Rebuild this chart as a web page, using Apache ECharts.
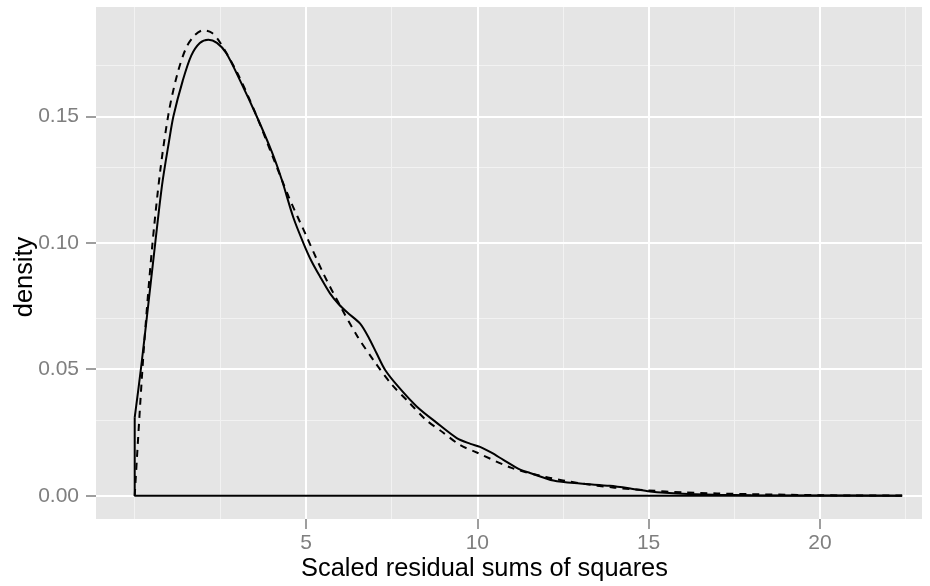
<!DOCTYPE html>
<html>
<head>
<meta charset="utf-8">
<script src="https://cdn.jsdelivr.net/npm/echarts@6/dist/echarts.min.js"></script>
<style>
  html, body { margin: 0; padding: 0; background: #fff; }
  #chart { width: 930px; height: 586px; }
</style>
</head>
<body>
<div id="chart"></div>
<script>
// 数据：核密度曲线（实线）和理论密度（虚线）
const kdeCurve = [
  [0, 0.031], [0.18, 0.05], [0.4, 0.076], [0.6, 0.1], [0.8, 0.123], [1.0, 0.140],
  [1.13, 0.150], [1.4, 0.164], [1.65, 0.174], [1.9, 0.179], [2.15, 0.1803],
  [2.4, 0.179], [2.67, 0.175], [3.08, 0.164], [3.56, 0.150], [4.0, 0.136],
  [4.29, 0.125], [4.63, 0.110], [4.92, 0.100], [5.15, 0.093], [5.41, 0.0866],
  [5.7, 0.080], [5.95, 0.0758], [6.2, 0.0725], [6.58, 0.068], [6.85, 0.062],
  [7.06, 0.0563], [7.31, 0.0497], [7.7, 0.043], [8.23, 0.0353], [8.8, 0.029],
  [9.4, 0.0228], [9.8, 0.0205], [10.08, 0.0193], [10.4, 0.0171], [10.76, 0.0142],
  [11.25, 0.0103], [11.54, 0.009], [12.22, 0.006], [13.0, 0.0048], [13.87, 0.0039],
  [14.5, 0.0028], [15.04, 0.0017], [16.0, 0.0008], [17.0, 0.0004], [18.0, 0.0002],
  [19.0, 0.0001], [20.0, 0.0001], [22.4, 0]
];
// 密度多边形的竖边和底边
const kdeOutline = [[0, 0.031], [0, 0], [22.4, 0]];
const refCurve = [
  [0, 0], [0.25, 0.055], [0.5, 0.097], [0.75, 0.129], [1.0, 0.152], [1.25, 0.167],
  [1.5, 0.177], [1.75, 0.182], [2.0, 0.184], [2.25, 0.183], [2.5, 0.179],
  [3.0, 0.167], [3.5, 0.152], [4.0, 0.135], [4.5, 0.118], [5.0, 0.103],
  [5.5, 0.088], [6.0, 0.075], [6.5, 0.063], [7.0, 0.053], [7.5, 0.044],
  [8.0, 0.037], [8.5, 0.030], [9.0, 0.025], [9.5, 0.020], [10.0, 0.017],
  [11.0, 0.011], [12.0, 0.0074], [13.0, 0.0049], [14.0, 0.0032], [15.0, 0.0021],
  [16.0, 0.0013], [17.0, 0.0009], [18.0, 0.0006], [19.0, 0.0004], [20.0, 0.0002],
  [21.0, 0.0001], [22.4, 0.0001]
];

// 刻度
const xTicks = [5, 10, 15, 20];
const xMinor = [0, 2.5, 7.5, 12.5, 17.5, 22.5];
const yTicks = [0, 0.05, 0.10, 0.15];
const yMinor = [0.025, 0.075, 0.125, 0.175];

const FONT = 'Liberation Sans, Arial, sans-serif';

const chart = echarts.init(document.getElementById('chart'));

function gridLines(xs, ys, color, width, z) {
  // 用 markLine 画网格线
  return {
    type: 'line',
    data: [],
    silent: true,
    z: z,
    markLine: {
      silent: true,
      z: z,
      symbol: ['none', 'none'],
      animation: false,
      label: { show: false },
      lineStyle: { color: color, width: width, type: 'solid' },
      emphasis: { disabled: true },
      data: xs.map(v => ({ xAxis: v })).concat(ys.map(v => ({ yAxis: v })))
    }
  };
}

const option = {
  animation: false,
  title: {
    text: 'Scaled residual sums of squares',
    left: 301,
    top: 556,
    padding: 0,
    textStyle: { fontSize: 25.4, fontWeight: 'normal', color: '#000', fontFamily: FONT }
  },
  grid: {
    left: 96,
    right: 8,
    top: 7,
    bottom: 67,
    containLabel: false,
    outerBoundsMode: 'none',
    show: true,
    backgroundColor: '#E5E5E5',
    borderWidth: 0
  },
  xAxis: {
    type: 'value',
    min: -1.13,
    max: 22.98,
    axisLine: { show: true, onZero: false, lineStyle: { opacity: 0 } },
    splitLine: { show: false },
    axisTick: {
      show: true,
      customValues: xTicks,
      length: 10,
      lineStyle: { color: '#7F7F7F', width: 1.5, opacity: 1 }
    },
    axisLabel: {
      customValues: xTicks,
      margin: 14,
      color: '#7F7F7F',
      fontSize: 21,
      fontFamily: FONT
    }
  },
  yAxis: {
    type: 'value',
    min: -0.0092,
    max: 0.1932,
    name: 'density',
    nameLocation: 'middle',
    nameGap: 59,
    nameRotate: 90,
    nameMoveOverlap: false,
    nameTextStyle: {
      fontSize: 25.4,
      color: '#000',
      fontFamily: FONT,
      padding: [0, 28, 0, 0]
    },
    axisLine: { show: true, onZero: false, lineStyle: { opacity: 0 } },
    splitLine: { show: false },
    axisTick: {
      show: true,
      customValues: yTicks,
      length: 10,
      lineStyle: { color: '#7F7F7F', width: 1.5, opacity: 1 }
    },
    axisLabel: {
      customValues: yTicks,
      margin: 17,
      color: '#7F7F7F',
      fontSize: 21,
      fontFamily: FONT,
      formatter: v => v.toFixed(2)
    }
  },
  series: [
    gridLines(xMinor, yMinor, '#F2F2F2', 1, 1),
    gridLines(xTicks, yTicks, '#FFFFFF', 2, 2),
    {
      type: 'line',
      data: kdeOutline,
      showSymbol: false,
      silent: true,
      z: 10,
      lineStyle: { color: '#000', width: 2 }
    },
    {
      type: 'line',
      data: kdeCurve,
      smooth: 0.3,
      showSymbol: false,
      silent: true,
      z: 10,
      lineStyle: { color: '#000', width: 2 }
    },
    {
      type: 'line',
      data: refCurve,
      smooth: 0.3,
      showSymbol: false,
      silent: true,
      z: 10,
      lineStyle: { color: '#000', width: 2, type: [7, 6] }
    }
  ]
};

chart.setOption(option);
</script>
</body>
</html>
